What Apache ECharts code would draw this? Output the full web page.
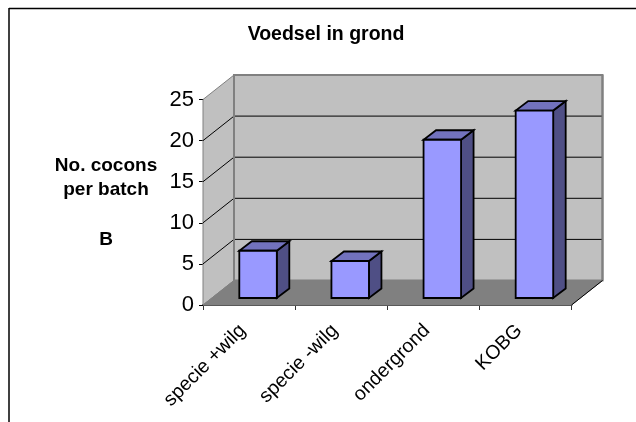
<!DOCTYPE html>
<html><head><meta charset="utf-8">
<style>html,body{margin:0;padding:0;background:#fff}#c{width:636px;height:422px}</style>
<script src="https://cdn.jsdelivr.net/npm/echarts@6/dist/echarts.min.js"></script>
</head><body><div id="c"></div>
<script>
const categories = ['specie +wilg', 'specie -wilg', 'ondergrond', 'KOBG'];
const values = [5.75, 4.5, 19.25, 22.8];
const yTicks = [0, 5, 10, 15, 20, 25];
const titleText = 'Voedsel in grond';
const sideLines = ['No. cocons', 'per batch', '', 'B'];

const font = '"Liberation Sans", Arial, sans-serif';
const DEPTH = [31, -24.5];
const BAR_OFF = [9, -7];
const BAR_DEPTH = [12.5, -9.5];
const BAR_W = 37.5;

const chart = echarts.init(document.getElementById('c'), null, {renderer: 'canvas'});

function poly(points, fill, stroke, lw) {
  return {type: 'polygon', shape: {points}, style: {fill, stroke: stroke || null, lineWidth: lw || 0, lineJoin: 'miter'}};
}
function seg(a, b, stroke, lw) {
  return {type: 'line', shape: {x1: a[0], y1: a[1], x2: b[0], y2: b[1]}, style: {stroke, lineWidth: lw}};
}
const back = p => [p[0] + DEPTH[0], p[1] + DEPTH[1]];

function renderWalls(params, api) {
  const w = api.size([1, 0])[0];
  const x0 = api.coord([0, 0])[0] - w / 2;
  const x1 = x0 + w * categories.length;
  const yB = api.coord([0, 0])[1];
  const yT = api.coord([0, yTicks[yTicks.length - 1]])[1];
  const fl = [x0, yB], fr = [x1, yB], tl = [x0, yT], tr = [x1, yT];
  const kids = [
    poly([tl, fl, back(fl), back(tl)], '#c0c0c0', '#808080', 1),
    poly([back(tl), back(fl), back(fr), back(tr)], '#c0c0c0', '#808080', 2),
    poly([fl, fr, back(fr), back(fl)], '#808080', '#808080', 1)
  ];
  yTicks.slice(1, -1).forEach(t => {
    const y = api.coord([0, t])[1];
    kids.push(seg([x0, y], back([x0, y]), '#000', 1));
    kids.push(seg(back([x0, y]), back([x1, y]), '#000', 1));
  });
  kids.push(seg(back(fl), back(tl), '#808080', 2));
  kids.push(seg(back(fr), back(tr), '#808080', 2));
  kids.push(seg(fr, back(fr), '#000', 1));
  return {type: 'group', children: kids};
}

function renderBar(params, api) {
  const c = api.coord([api.value(0), api.value(1)]);
  const b = api.coord([api.value(0), 0]);
  const l = c[0] + BAR_OFF[0] - BAR_W / 2, r = l + BAR_W;
  const t = c[1] + BAR_OFF[1], bt = b[1] + BAR_OFF[1];
  const dx = BAR_DEPTH[0], dy = BAR_DEPTH[1];
  const lw = 1.8;
  return {type: 'group', children: [
    poly([[r, t], [r, bt], [r + dx, bt + dy], [r + dx, t + dy]], '#4f4f85', '#000', lw),
    poly([[l, t], [r, t], [r + dx, t + dy], [l + dx, t + dy]], '#7272bd', '#000', lw),
    poly([[l, t], [r, t], [r, bt], [l, bt]], '#9999ff', '#000', lw)
  ]};
}

chart.setOption({
  animation: false,
  backgroundColor: '#fff',
  title: {
    text: titleText, left: 321, top: 20, textAlign: 'center',
    textStyle: {fontFamily: font, fontSize: 19.5, fontWeight: 'bold', color: '#000'}
  },
  grid: {left: 203, top: 99.5, width: 368.5, height: 205.5},
  xAxis: {
    type: 'category', data: categories,
    axisLine: {show: true, lineStyle: {color: '#333', width: 2}},
    axisTick: {show: true, length: 5, lineStyle: {color: '#333', width: 1}, alignWithLabel: false},
    axisLabel: {rotate: 45, interval: 0, margin: 29, verticalAlign: 'bottom', lineHeight: 18, fontFamily: font, fontSize: 19.5, color: '#000'},
    splitLine: {show: false}
  },
  yAxis: {
    type: 'value', min: 0, max: 25, interval: 5,
    axisLine: {show: true, lineStyle: {color: '#000', width: 1}},
    axisTick: {show: true, length: 4, lineStyle: {color: '#000', width: 1}},
    axisLabel: {margin: 9, fontFamily: font, fontSize: 22, color: '#000'},
    splitLine: {show: false}
  },
  series: [
    {type: 'custom', name: 'walls', z: 1, silent: true, clip: false, renderItem: renderWalls,
     data: [[0, 0]], encode: {x: 0, y: 1}},
    {type: 'custom', name: 'Voedsel in grond', z: 3, clip: false, renderItem: renderBar,
     data: categories.map((c, i) => [i, values[i]]), encode: {x: 0, y: 1}}
  ],
  graphic: [
    {type: 'line', z: 10, shape: {x1: 9, y1: 8.5, x2: 636, y2: 8.5}, style: {stroke: '#000', lineWidth: 1.5}},
    {type: 'line', z: 10, shape: {x1: 9, y1: 8, x2: 9, y2: 422}, style: {stroke: '#000', lineWidth: 1.5}},
    {type: 'text', z: 10, x: 106, y: 153, style: {
      text: sideLines.join('\n'), fontFamily: font, fontSize: 19, fontWeight: 'bold',
      fill: '#000', align: 'center', verticalAlign: 'top', lineHeight: 24.7
    }}
  ]
});
</script></body></html>
